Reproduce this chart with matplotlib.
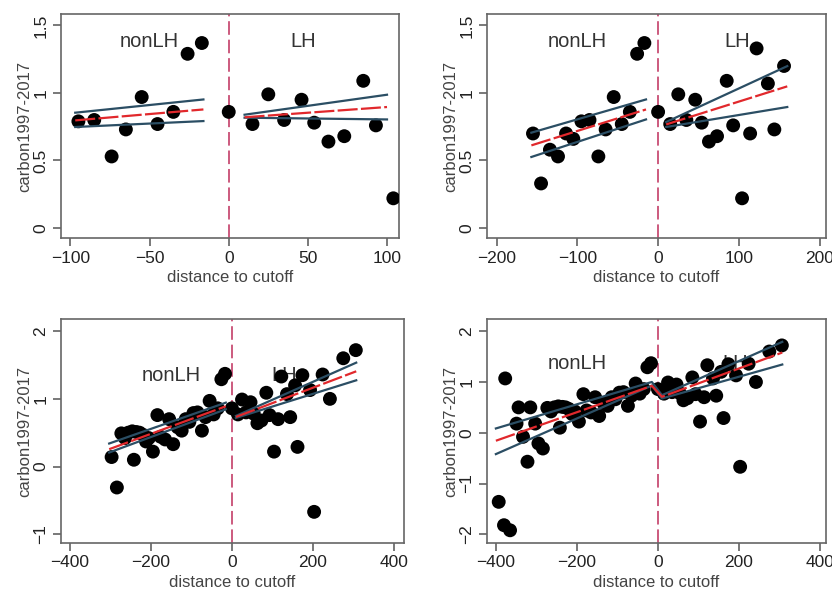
import matplotlib.pyplot as plt
from matplotlib.ticker import FuncFormatter

plt.rcParams["font.family"] = ["Liberation Sans", "DejaVu Sans"]

# binned means of carbon1997-2017 by distance to cutoff (shared across bandwidths)
bin_x = [-297, -284, -273, -264, -256, -246, -242, -236, -228, -220, -212, -205,
         -195, -184, -176, -165, -155, -145, -134, -124, -114, -105, -95, -85,
         -74, -65, -55, -45, -35, -26, -17, 0, 15, 25, 35, 46, 54, 63, 73, 85,
         93, 104, 114, 122, 136, 144, 156, 162, 174, 193, 203, 224, 242, 275, 306]
bin_y = [0.14, -0.31, 0.49, 0.42, 0.50, 0.52, 0.10, 0.51, 0.50, 0.47, 0.37, 0.42,
         0.22, 0.76, 0.44, 0.40, 0.70, 0.33, 0.58, 0.53, 0.70, 0.66, 0.79, 0.80,
         0.53, 0.73, 0.97, 0.77, 0.86, 1.29, 1.37, 0.86, 0.77, 0.99, 0.80, 0.95,
         0.78, 0.64, 0.68, 1.09, 0.76, 0.22, 0.70, 1.33, 1.07, 0.73, 1.20, 0.29,
         1.35, 1.13, -0.67, 1.36, 1.00, 1.60, 1.72]

# bins only reached by the widest bandwidth
far_x = [-393, -380, -377, -365, -349, -344, -333, -322, -315, -303, -295]
far_y = [-1.36, -1.82, 1.07, -1.92, 0.18, 0.50, -0.08, -0.57, 0.50, 0.18, -0.21]

windows = [(-100, 106), (-160, 160), (-300, 310), (-290, 310)]
show_far = [False, False, False, True]
xlims = [(-106, 107.6), (-212, 208), (-422, 425), (-422, 415)]
ylims = [(-0.074, 1.585), (-0.074, 1.585), (-1.13, 2.18), (-2.17, 2.24)]
xticks = [[-100, -50, 0, 50, 100], [-200, -100, 0, 100, 200],
          [-400, -200, 0, 200, 400], [-400, -200, 0, 200, 400]]
yticks = [[0, 0.5, 1, 1.5], [0, 0.5, 1, 1.5], [-1, 0, 1, 2], [-2, -1, 0, 1, 2]]

# linear fits and 95% CI on each side of the cutoff (values at segment ends)
left_x = [(-97, -16), (-157, -15), (-303, -15), (-400, -15)]
right_x = [(10, 100), (10, 160), (10, 307), (10, 307)]
est_left = [(0.797, 0.878), (0.612, 0.878), (0.256, 0.890), (-0.157, 0.925)]
hi_left = [(0.854, 0.952), (0.706, 0.952), (0.340, 0.944), (0.085, 1.000)]
lo_left = [(0.748, 0.792), (0.526, 0.804), (0.207, 0.846), (-0.420, 0.930)]
est_right = [(0.820, 0.896), (0.767, 1.049), (0.733, 1.407), (0.708, 1.580)]
hi_right = [(0.839, 0.987), (0.785, 1.199), (0.748, 1.535), (0.740, 1.790)]
lo_right = [(0.817, 0.804), (0.748, 0.896), (0.718, 1.274), (0.675, 1.344)]
join_cutoff = [False, False, False, True]

label_y = [1.38, 1.38, 1.35, 1.37]
nonlh_x = [-50, -100, -150, -199]
lh_x = [47, 98, 130, 192]

positions = [
    [0.0733, 0.5966, 0.4063, 0.3797],
    [0.5853, 0.5966, 0.4075, 0.3797],
    [0.0733, 0.0797, 0.4123, 0.3796],
    [0.5853, 0.0797, 0.4075, 0.3796],
]

CI_COLOR = "#2b4e64"
FIT_COLOR = "#e1282c"
CUT_COLOR = "#cc5a7e"


def fmt(v, _pos):
    return f"{v:g}".replace("-", "\u2212")


fig = plt.figure(figsize=(8.32, 5.9), dpi=100)

for i, pos in enumerate(positions):
    ax = fig.add_axes(pos)
    lo, hi = windows[i]
    xs = [x for x in bin_x if lo <= x <= hi]
    ys = [y for x, y in zip(bin_x, bin_y) if lo <= x <= hi]
    if show_far[i]:
        xs = far_x + xs
        ys = far_y + ys

    ax.axvline(0, color=CUT_COLOR, lw=1.4, dashes=(7, 2.5), zorder=1)
    ax.scatter(xs, ys, s=100, color="black", edgecolors="none", zorder=3)

    for vals_l, vals_r, color, style in [
        (hi_left, hi_right, CI_COLOR, "-"),
        (lo_left, lo_right, CI_COLOR, "-"),
        (est_left, est_right, FIT_COLOR, "--"),
    ]:
        kw = dict(color=color, lw=1.6, zorder=4)
        if style == "--":
            kw["dashes"] = (9, 1.5)
        if join_cutoff[i]:
            ax.plot(list(left_x[i]) + list(right_x[i]),
                    list(vals_l[i]) + list(vals_r[i]), **kw)
        else:
            ax.plot(left_x[i], vals_l[i], **kw)
            ax.plot(right_x[i], vals_r[i], **kw)

    ax.text(nonlh_x[i], label_y[i], "nonLH", fontsize=14.5, color="#333333",
            ha="center", va="center", zorder=2)
    ax.text(lh_x[i], label_y[i], "LH", fontsize=14.5, color="#333333",
            ha="center", va="center", zorder=2)

    ax.set_xlim(*xlims[i])
    ax.set_ylim(*ylims[i])
    ax.set_xticks(xticks[i])
    ax.set_yticks(yticks[i])
    ax.xaxis.set_major_formatter(FuncFormatter(fmt))
    ax.yaxis.set_major_formatter(FuncFormatter(fmt))
    ax.tick_params(axis="both", length=6, width=1.1, color="#555555",
                   labelsize=12.5, labelcolor="#222222", pad=3)
    for lab in ax.get_yticklabels():
        lab.set_rotation(90)
        lab.set_va("center")
    for sp in ax.spines.values():
        sp.set_color("#666666")
        sp.set_linewidth(1.2)

    ax.set_xlabel("distance to cutoff", fontsize=12, color="#444444", labelpad=3)
    ax.set_ylabel("carbon1997-2017", fontsize=12, color="#444444", labelpad=1)

fig.savefig("out.png", dpi=100, facecolor="white")
